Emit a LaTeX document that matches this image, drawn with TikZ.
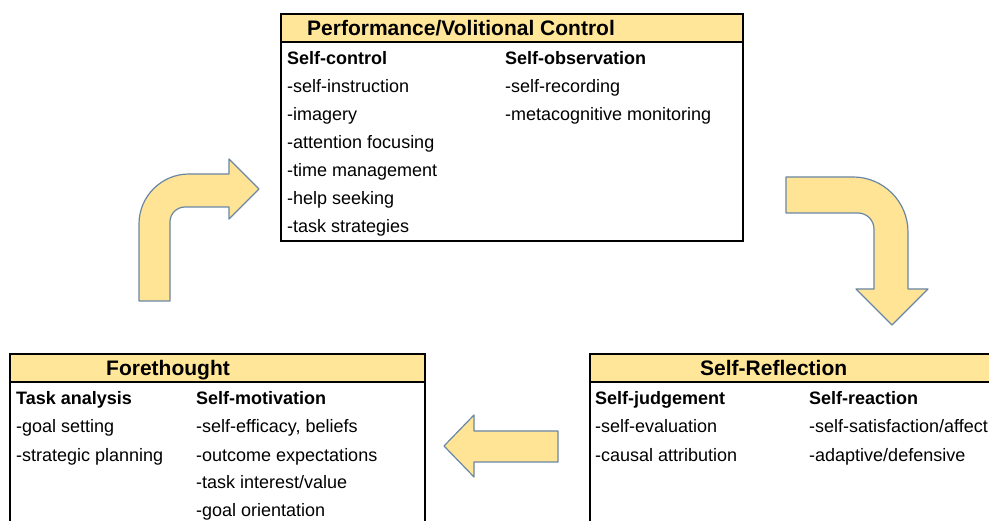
\documentclass[tikz,border=0pt]{standalone}
\usepackage{fontspec}
\setmainfont{Liberation Sans}
\definecolor{headfill}{RGB}{255,230,153}
\definecolor{arrowfill}{RGB}{255,228,150}
\definecolor{arrowline}{RGB}{105,135,165}
\newcommand\bodyfont{\fontsize{18}{22}\selectfont}
\newcommand\titlefont{\fontsize{21}{25}\selectfont\bfseries}
\tikzset{
  frame/.style={draw=black, line width=2pt, anchor=north west, inner sep=0pt, outer sep=0pt},
  headbar/.style={draw=black, line width=1.3pt, fill=headfill, anchor=north west, inner sep=0pt, outer sep=0pt},
  txt/.style={anchor=base west, inner sep=0pt, font=\bodyfont},
  hdr/.style={anchor=base west, inner sep=0pt, font=\bodyfont\bfseries},
  ttl/.style={anchor=base west, inner sep=0pt, font=\titlefont},
  bigarrow/.style={fill=arrowfill, draw=arrowline, line width=1.2pt, line join=round}
}
\begin{document}
\begin{tikzpicture}[x=1pt,y=-1pt]
\clip (0,0) rectangle (989,521);
\fill[white] (0,0) rectangle (989,521);

% ---------- Performance / Volitional Control ----------
\node[headbar, minimum width=462pt, minimum height=28pt] (pvchead) at (281,14) {};
\node[frame, minimum width=462pt, minimum height=227pt] (pvc) at (281,14) {};
\node[ttl] (pvctitle) at (307,36) {Performance/Volitional Control};
\node[hdr] (sc) at (287,65) {Self-control};
\node[hdr] (so) at (505,65) {Self-observation};
\foreach \t [count=\i] in {-self-instruction,-imagery,-attention focusing,-time management,-help seeking,-task strategies}
  \node[txt] (sc\i) at (287,65+28*\i) {\t};
\foreach \t [count=\i] in {-self-recording,-metacognitive monitoring}
  \node[txt] (so\i) at (505,65+28*\i) {\t};

% ---------- Forethought ----------
\node[headbar, minimum width=415pt, minimum height=28pt] (fthead) at (10,354) {};
\node[frame, minimum width=415pt, minimum height=220pt] (ft) at (10,354) {};
\node[ttl] (fttitle) at (106,376) {Forethought};
\node[hdr] (ta) at (16,405) {Task analysis};
\node[hdr] (sm) at (196,405) {Self-motivation};
\foreach \t [count=\i] in {-goal setting,-strategic planning}
  \node[txt] (ta\i) at (16,405+28*\i) {\t};
\foreach \t [count=\i] in {{-self-efficacy, beliefs},-outcome expectations,-task interest/value,-goal orientation}
  \node[txt] (sm\i) at (196,405+28*\i) {\t};

% ---------- Self-Reflection ----------
\node[headbar, minimum width=460pt, minimum height=28pt] (srhead) at (590,354) {};
\node[frame, minimum width=460pt, minimum height=220pt] (sr) at (590,354) {};
\node[ttl] (srtitle) at (700,376) {Self-Reflection};
\node[hdr] (sj) at (595,405) {Self-judgement};
\node[hdr] (sx) at (809,405) {Self-reaction};
\foreach \t [count=\i] in {-self-evaluation,-causal attribution}
  \node[txt] (sj\i) at (595,405+28*\i) {\t};
\foreach \t [count=\i] in {-self-satisfaction/affect,-adaptive/defensive}
  \node[txt] (sx\i) at (809,405+28*\i) {\t};

% ---------- Block arrows ----------
% bent arrow: up then right
\draw[bigarrow] (139,301) -- (139,224)
  .. controls (139,196.4) and (161.4,174) .. (189,174)
  -- (229,174) -- (229,159) -- (259,189) -- (229,219) -- (229,207)
  -- (185,207) .. controls (176.7,207) and (170,213.7) .. (170,222)
  -- (170,301) -- cycle;
% bent arrow: right then down
\draw[bigarrow] (786,177) -- (853,177)
  .. controls (883.4,177) and (908,201.6) .. (908,232)
  -- (908,289) -- (928,289) -- (892,325) -- (856,289) -- (874,289)
  -- (874,229) .. controls (874,220.2) and (866.8,213) .. (858,213)
  -- (786,213) -- cycle;
% straight arrow: left
\draw[bigarrow] (558,431) -- (474,431) -- (474,415) -- (444,446)
  -- (474,477) -- (474,462) -- (558,462) -- cycle;
\end{tikzpicture}
\end{document}
